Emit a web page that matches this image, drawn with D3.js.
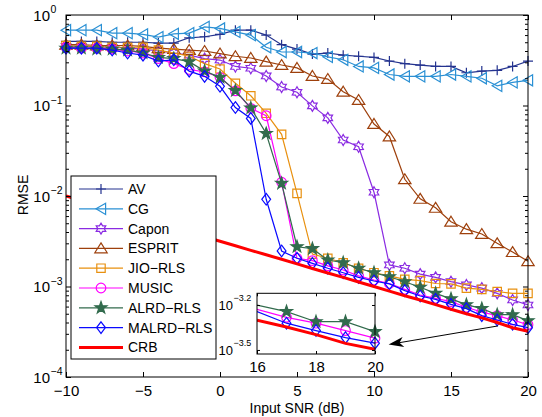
<!DOCTYPE html>
<html>
<head>
<meta charset="utf-8">
<script src="https://cdn.jsdelivr.net/npm/d3@7"></script>
<style>
  body { margin: 0; background: #fff; }
  svg { font-family: "Liberation Sans", Arial, Helvetica, sans-serif; }
</style>
</head>
<body>
<svg id="chart" width="542" height="417"></svg>
<script>
// input SNR in dB
var snr = [-10, -9, -8, -7, -6, -5, -4, -3, -2, -1, 0, 1, 2, 3, 4, 5,
  6, 7, 8, 9, 10, 11, 12, 13, 14, 15, 16, 17, 18, 19, 20];

var av = [0.51, 0.51, 0.51, 0.50, 0.50, 0.50, 0.49, 0.49, 0.56, 0.575, 0.61,
  0.68, 0.68, 0.60, 0.47, 0.42, 0.37, 0.38, 0.36, 0.35, 0.34, 0.31, 0.29,
  0.28, 0.27, 0.27, 0.23, 0.24, 0.245, 0.27, 0.31];
var cg = [0.68, 0.68, 0.68, 0.63, 0.63, 0.61, 0.57, 0.62, 0.63, 0.74, 0.71,
  0.65, 0.60, 0.44, 0.39, 0.39, 0.38, 0.345, 0.32, 0.27, 0.26, 0.22, 0.21,
  0.21, 0.21, 0.22, 0.21, 0.20, 0.165, 0.18, 0.19];
var capon = [0.45, 0.45, 0.44, 0.44, 0.43, 0.42, 0.40, 0.38, 0.36, 0.33, 0.318,
  0.27, 0.258, 0.212, 0.16, 0.14, 0.099, 0.073, 0.0416, 0.035, 0.011, 0.00173,
  0.00159, 0.00137, 0.00126, 0.00113, 0.00104, 0.00096, 0.00084, 0.00071, 0.000625];
var esprit = [0.47, 0.47, 0.46, 0.46, 0.46, 0.45, 0.43, 0.42, 0.41, 0.40, 0.375,
  0.35, 0.335, 0.305, 0.28, 0.26, 0.212, 0.196, 0.142, 0.115, 0.0625, 0.0455,
  0.0153, 0.0093, 0.0074, 0.0052, 0.0043, 0.0038, 0.0030, 0.0024, 0.0019];
var jio = [0.46, 0.45, 0.45, 0.44, 0.44, 0.44, 0.41, 0.38, 0.35, 0.29, 0.253,
  0.176, 0.128, 0.082, 0.048, 0.0107, 0.00228, 0.00205, 0.00183, 0.00159,
  0.00142, 0.00131, 0.0012, 0.00116, 0.00108, 0.00107, 0.00096, 0.00093,
  0.00088, 0.00084, 0.00084];
var music = [0.44, 0.43, 0.43, 0.42, 0.40, 0.38, 0.33, 0.29, 0.25, 0.235, 0.205,
  0.145, 0.093, 0.077, 0.0142, 0.00205, 0.00193, 0.00169, 0.00152, 0.00131,
  0.00118, 0.00108, 0.00093, 0.000805, 0.00074, 0.00068, 0.00059, 0.000522,
  0.000477, 0.000426, 0.000379];
var alrd = [0.43, 0.43, 0.42, 0.42, 0.41, 0.38, 0.34, 0.33, 0.305, 0.24, 0.205,
  0.146, 0.094, 0.049, 0.0138, 0.00275, 0.00262, 0.00196, 0.00183, 0.00159,
  0.00142, 0.00128, 0.00113, 0.00098, 0.00084, 0.00073, 0.00063, 0.00057,
  0.000488, 0.000488, 0.000419];
var malrd = [0.43, 0.43, 0.43, 0.41, 0.38, 0.36, 0.31, 0.32, 0.24, 0.21, 0.163,
  0.095, 0.072, 0.0092, 0.00247, 0.00205, 0.0018, 0.00159, 0.00142, 0.00126,
  0.00115, 0.00107, 0.0009, 0.000785, 0.00072, 0.000635, 0.00057, 0.000477,
  0.000426, 0.000382, 0.000351];
var crb = [0.01, 0.00891, 0.00794, 0.00708, 0.00631, 0.00562, 0.00501, 0.00447,
  0.00398, 0.00355, 0.00316, 0.00282, 0.00251, 0.00224, 0.002, 0.00178,
  0.00158, 0.00141, 0.00126, 0.00112, 0.001, 0.00089, 0.00079, 0.00071,
  0.00063, 0.00056, 0.0005, 0.00045, 0.0004, 0.00035, 0.00032];

var xTicks = [-10, -5, 0, 5, 10, 15, 20];
var yTicks = [1e-4, 1e-3, 1e-2, 1e-1, 1];
var insetXTicks = [16, 18, 20];
var insetYExp = [-3.2, -3.5];
var insetNames = ['ALRD\u2212RLS', 'MUSIC', 'MALRD\u2212RLS', 'CRB'];
// arrow from the curves to the zoomed box, in data units
var arrowFrom = [18.04, Math.pow(10, -3.436)];
var arrowTo = [10.95, Math.pow(10, -3.641)];

var series = [
  {name: 'AV', values: av, color: '#24338f', marker: 'plus'},
  {name: 'CG', values: cg, color: '#2a90d4', marker: 'left'},
  {name: 'Capon', values: capon, color: '#8a2be2', marker: 'hexagram'},
  {name: 'ESPRIT', values: esprit, color: '#9e400c', marker: 'up'},
  {name: 'JIO\u2212RLS', values: jio, color: '#e8900f', marker: 'square'},
  {name: 'MUSIC', values: music, color: '#ff00ff', marker: 'circle'},
  {name: 'ALRD\u2212RLS', values: alrd, color: '#326b4d', marker: 'pentagram'},
  {name: 'MALRD\u2212RLS', values: malrd, color: '#0a0aff', marker: 'diamond'},
  {name: 'CRB', values: crb, color: '#ff0000', marker: null, width: 3}
];

function star(n, R, r) {
  var pts = [];
  for (var i = 0; i < 2 * n; i++) {
    var a = -Math.PI / 2 + i * Math.PI / n;
    var rad = i % 2 ? r : R;
    pts.push([(rad * Math.cos(a)).toFixed(2), (rad * Math.sin(a)).toFixed(2)]);
  }
  return 'M' + pts.join('L') + 'Z';
}

function markerPath(type) {
  switch (type) {
    case 'plus': return 'M-5,0H5M0,-5V5';
    case 'left': return 'M-5,0L4.6,-5.6L4.6,5.6Z';
    case 'up': return 'M0,-5.5L6.2,4.4L-6.2,4.4Z';
    case 'square': return 'M-4.2,-4.2H4.2V4.2H-4.2Z';
    case 'circle': return d3.symbol(d3.symbolCircle, Math.PI * 4.8 * 4.8)();
    case 'diamond': return 'M0,-5.8L4.4,0L0,5.8L-4.4,0Z';
    case 'hexagram': return star(6, 5.5, 3.2);
    case 'pentagram': return star(5, 6.3, 2.5);
  }
  return '';
}

var svg = d3.select('#chart');
var x = d3.scaleLinear().domain([-10, 20]).range([66, 528]);
var y = d3.scaleLog().domain([1e-4, 1]).range([377, 15]);

svg.append('defs').append('clipPath').attr('id', 'clip-main')
  .append('rect').attr('x', 66).attr('y', 15).attr('width', 462).attr('height', 362);

var line = d3.line()
  .x(function(d) { return x(d[0]); })
  .y(function(d) { return y(d[1]); });

var plot = svg.append('g');

series.forEach(function(s) {
  var pts = snr.map(function(d, i) { return [d, s.values[i]]; });
  plot.append('path')
    .datum(pts)
    .attr('d', line)
    .attr('clip-path', 'url(#clip-main)')
    .style('fill', 'none')
    .style('stroke', s.color)
    .style('stroke-width', s.width || 1.2);

  if (s.marker) {
    plot.append('g').selectAll('path')
      .data(pts)
      .enter().append('path')
        .attr('transform', function(d) { return 'translate(' + x(d[0]) + ',' + y(d[1]) + ')'; })
        .attr('d', markerPath(s.marker))
        .style('fill', s.marker === 'pentagram' ? s.color : 'none')
        .style('stroke', s.color)
        .style('stroke-width', 1.2);
  }
});

// axes: ticks pointing inwards on all four sides
var minor = [];
yTicks.slice(0, -1).forEach(function(v) {
  for (var k = 2; k < 10; k++) minor.push(v * k);
});

function clean(g) {
  g.select('.domain').remove();
  g.attr('font-family', null).attr('font-size', 15);
  g.selectAll('line').style('stroke', '#000');
}

var minus = function(d) { return d < 0 ? '\u2212' + (-d) : '' + d; };

svg.append('g').attr('transform', 'translate(0,377)')
  .call(d3.axisBottom(x).tickValues(xTicks).tickSizeInner(-5).tickSizeOuter(0)
    .tickPadding(8).tickFormat(minus))
  .call(clean);
svg.append('g').attr('transform', 'translate(0,15)')
  .call(d3.axisTop(x).tickValues(xTicks).tickSizeInner(-5).tickSizeOuter(0).tickFormat(''))
  .call(clean);
[['axisLeft', 66], ['axisRight', 528]].forEach(function(a) {
  svg.append('g').attr('transform', 'translate(' + a[1] + ',0)')
    .call(d3[a[0]](y).tickValues(yTicks).tickSizeInner(-5).tickSizeOuter(0).tickFormat(''))
    .call(clean);
  svg.append('g').attr('transform', 'translate(' + a[1] + ',0)')
    .call(d3[a[0]](y).tickValues(minor).tickSizeInner(-3).tickSizeOuter(0).tickFormat(''))
    .call(clean);
});

svg.append('rect')
  .attr('x', 66).attr('y', 15).attr('width', 462).attr('height', 362)
  .style('fill', 'none').style('stroke', '#000').style('stroke-width', 1);

yTicks.forEach(function(v) {
  var e = Math.round(Math.log10(v));
  svg.append('text').attr('x', 50).attr('y', y(v) + 5.5)
    .attr('text-anchor', 'end').attr('font-size', 15).text('10');
  svg.append('text').attr('x', 50.5).attr('y', y(v) - 2)
    .attr('font-size', 10.5).text(minus(e));
});

svg.append('text')
  .attr('x', 297).attr('y', 413)
  .attr('text-anchor', 'middle').attr('font-size', 14)
  .text('Input SNR (dB)');

svg.append('text')
  .attr('transform', 'translate(28,195) rotate(-90)')
  .attr('text-anchor', 'middle').attr('font-size', 14)
  .text('RMSE');

// inset with the 16-20 dB region
var ix = d3.scaleLinear().domain([16, 20]).range([257, 375]);
var iy = d3.scaleLog().domain([Math.pow(10, -3.527), Math.pow(10, -3.122)]).range([354, 293.3]);

svg.select('defs').append('clipPath').attr('id', 'clip-inset')
  .append('rect').attr('x', 257).attr('y', 293.3).attr('width', 118).attr('height', 60.7);

var inset = svg.append('g');
inset.append('rect')
  .attr('x', 257).attr('y', 293.3).attr('width', 118).attr('height', 60.7)
  .style('fill', '#fff');

var iline = d3.line()
  .x(function(d) { return ix(d[0]); })
  .y(function(d) { return iy(d[1]); });

series.filter(function(s) { return insetNames.indexOf(s.name) >= 0; }).forEach(function(s) {
  var pts = snr.map(function(d, i) { return [d, s.values[i]]; })
    .filter(function(d) { return d[0] >= 16; });
  inset.append('path')
    .datum(pts)
    .attr('d', iline)
    .attr('clip-path', 'url(#clip-inset)')
    .style('fill', 'none')
    .style('stroke', s.color)
    .style('stroke-width', s.width || 1.2);
  if (s.marker) {
    inset.append('g').selectAll('path')
      .data(pts.filter(function(d) { return d[0] > 16; }))
      .enter().append('path')
        .attr('transform', function(d) { return 'translate(' + ix(d[0]) + ',' + iy(d[1]) + ')'; })
        .attr('d', markerPath(s.marker))
        .style('fill', s.marker === 'pentagram' ? s.color : 'none')
        .style('stroke', s.color)
        .style('stroke-width', 1.2);
  }
});

var iyTicks = insetYExp.map(function(e) { return Math.pow(10, e); });
inset.append('g').attr('transform', 'translate(0,354)')
  .call(d3.axisBottom(ix).tickValues(insetXTicks).tickSizeInner(-3).tickSizeOuter(0)
    .tickPadding(7).tickFormat(d3.format('d')))
  .call(clean);
inset.append('g').attr('transform', 'translate(0,293.3)')
  .call(d3.axisTop(ix).tickValues(insetXTicks).tickSizeInner(-3).tickSizeOuter(0).tickFormat(''))
  .call(clean);
inset.append('g').attr('transform', 'translate(257,0)')
  .call(d3.axisLeft(iy).tickValues(iyTicks).tickSizeInner(-3).tickSizeOuter(0).tickFormat(''))
  .call(clean);
inset.append('g').attr('transform', 'translate(375,0)')
  .call(d3.axisRight(iy).tickValues(iyTicks).tickSizeInner(-3).tickSizeOuter(0).tickFormat(''))
  .call(clean);

inset.append('rect')
  .attr('x', 257).attr('y', 293.3).attr('width', 118).attr('height', 60.7)
  .style('fill', 'none').style('stroke', '#000').style('stroke-width', 1);

insetYExp.forEach(function(e, i) {
  var v = iyTicks[i];
  inset.append('text').attr('x', 233).attr('y', iy(v) + 5)
    .attr('text-anchor', 'end').attr('font-size', 13).text('10');
  inset.append('text').attr('x', 233.5).attr('y', iy(v) - 3.5)
    .attr('font-size', 9).text(minus(e));
});

// arrow pointing at the inset
var ax0 = x(arrowFrom[0]), ay0 = y(arrowFrom[1]);
var ax1 = x(arrowTo[0]), ay1 = y(arrowTo[1]);
var len = Math.sqrt((ax0 - ax1) * (ax0 - ax1) + (ay0 - ay1) * (ay0 - ay1));
var dx = (ax0 - ax1) / len, dy = (ay0 - ay1) / len;
svg.append('line')
  .attr('x1', ax0).attr('y1', ay0).attr('x2', ax1 + dx * 10).attr('y2', ay1 + dy * 10)
  .style('stroke', '#000').style('stroke-width', 1);
var head = [
  [ax1, ay1],
  [ax1 + dx * 15 - dy * 5, ay1 + dy * 15 + dx * 5],
  [ax1 + dx * 11, ay1 + dy * 11],
  [ax1 + dx * 15 + dy * 5, ay1 + dy * 15 - dx * 5]
];
svg.append('path')
  .attr('d', 'M' + head.join('L') + 'Z')
  .style('fill', '#000');

// legend
var legend = svg.append('g');
legend.append('rect')
  .attr('x', 71).attr('y', 176).attr('width', 145).attr('height', 183)
  .style('fill', '#fff').style('stroke', '#000').style('stroke-width', 1);

var rows = legend.selectAll('g.row')
  .data(series)
  .enter().append('g')
    .attr('class', 'row')
    .attr('transform', function(d, i) { return 'translate(0,' + (189 + i * 19.8) + ')'; });

rows.append('line')
  .attr('x1', 79).attr('x2', 123).attr('y1', 0).attr('y2', 0)
  .style('stroke', function(d) { return d.color; })
  .style('stroke-width', function(d) { return d.width || 1.2; });

rows.filter(function(d) { return d.marker; }).append('path')
  .attr('transform', 'translate(101,0)')
  .attr('d', function(d) { return markerPath(d.marker); })
  .style('fill', function(d) { return d.marker === 'pentagram' ? d.color : 'none'; })
  .style('stroke', function(d) { return d.color; })
  .style('stroke-width', 1.2);

rows.append('text')
  .attr('x', 128).attr('y', 5)
  .attr('font-size', 14)
  .text(function(d) { return d.name; });
</script>
</body>
</html>
